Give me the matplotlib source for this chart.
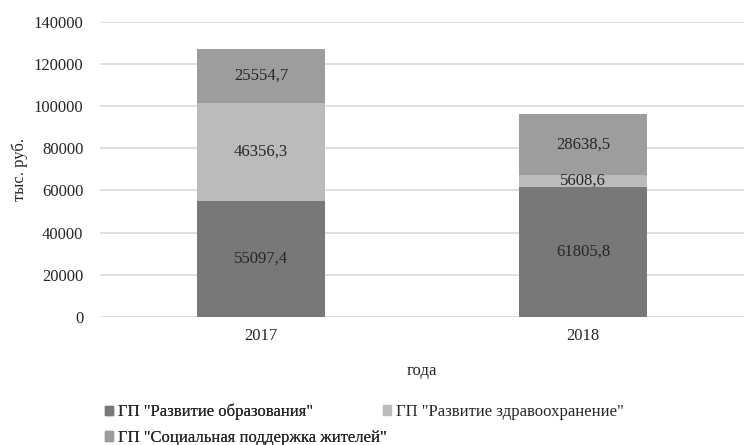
import numpy as np
import matplotlib.pyplot as plt
from matplotlib.patches import Patch

plt.rcParams['font.family'] = ['Liberation Serif', 'DejaVu Serif']
plt.rcParams['font.size'] = 12

years = ['2017', '2018']
series_names = ['ГП "Развитие образования"',
                'ГП "Развитие здравоохранение"',
                'ГП "Социальная поддержка жителей"']
education = [55097.4, 61805.8]
health = [46356.3, 5608.6]
social = [25554.7, 28638.5]
colors = ['#78787b', '#bbbbbe', '#9d9da0']

fig = plt.figure(figsize=(7.47, 4.45), dpi=100)
ax = fig.add_axes([0.134, 0.288, 0.862, 0.663])

x = np.arange(len(years))
bottom = np.zeros(len(years))
for vals, col in zip([education, health, social], colors):
    vals = np.array(vals)
    ax.bar(x, vals, width=0.4, bottom=bottom, color=col, zorder=2)
    for xi, b, v in zip(x, bottom, vals):
        lbl = ('%.1f' % v).replace('.', ',')
        ax.text(xi, b + v / 2, lbl, ha='center', va='center',
                color='#262626', zorder=3)
    bottom += vals

ax.set_xlim(-0.5, 1.5)
ax.set_ylim(0, 140000)
ax.set_yticks(np.arange(0, 140001, 20000))
ax.set_xticks(x)
ax.set_xticklabels(years)
ax.yaxis.grid(True, color='#d9d9d9', linewidth=1.2, zorder=0)
for s in ax.spines.values():
    s.set_visible(False)
ax.tick_params(length=0, colors='#262626')
ax.tick_params(axis='y', pad=12)
ax.tick_params(axis='x', pad=8)
ax.set_ylabel('тыс. руб.', color='#262626')
ax.yaxis.set_label_coords(-0.112, 0.5)
ax.set_xlabel('года', color='#262626', labelpad=14)

# legend laid out row by row like the original (two columns)
leg_kw = dict(loc='upper left', frameon=False, borderaxespad=0, borderpad=0,
              handlelength=0.5, handleheight=0.5, handletextpad=0.3,
              labelspacing=0.55, labelcolor='#262626')
top = 1 - 404 / 445
leg1 = fig.legend([Patch(color=colors[0]), Patch(color=colors[2])],
                  [series_names[0], series_names[2]],
                  bbox_to_anchor=(105 / 747, top), **leg_kw)
fig.legend([Patch(color=colors[1])], [series_names[1]],
           bbox_to_anchor=(383 / 747, top), **leg_kw)
fig.add_artist(leg1)

fig.savefig('out.png', dpi=100)
